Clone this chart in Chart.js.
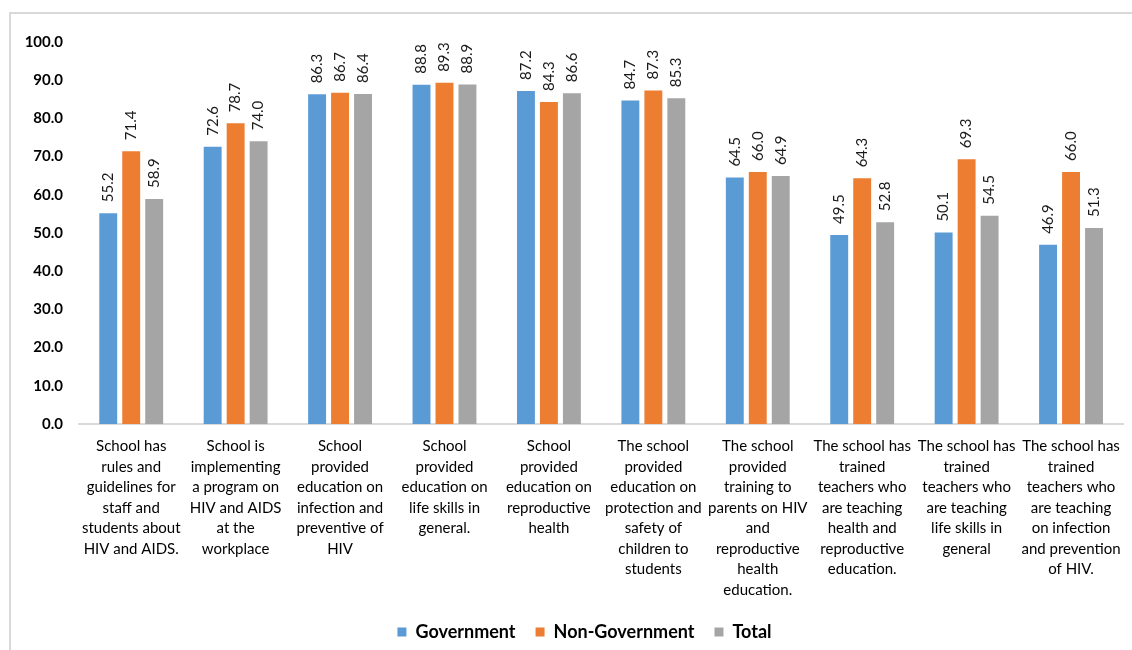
<!DOCTYPE html>
<html>
<head>
<meta charset="utf-8">
<script src="https://cdn.jsdelivr.net/npm/chart.js@4.4.1/dist/chart.umd.min.js"></script>
<style>
  html, body { margin: 0; padding: 0; background: #fff; overflow: hidden; }
  #frame {
    position: absolute; left: 9px; top: 12px;
    width: 1140px; height: 680px;
    border-top: 2px solid #d9d9d9; border-left: 2px solid #d9d9d9;
  }
  #wrap { position: relative; width: 1122px; height: 660px; }
</style>
</head>
<body>
<div id="frame"><div id="wrap"><canvas id="schoolChart"></canvas></div></div>
<script>
  // === Data ===
  const categories = [
    ['School has', 'rules and', 'guidelines for', 'staff and', 'students about', 'HIV and AIDS.'],
    ['School is', 'implementing', 'a program on', 'HIV and AIDS', 'at the', 'workplace'],
    ['School', 'provided', 'education on', 'infection and', 'preventive of', 'HIV'],
    ['School', 'provided', 'education on', 'life skills in', 'general.'],
    ['School', 'provided', 'education on', 'reproductive', 'health'],
    ['The school', 'provided', 'education on', 'protection and', 'safety of', 'children to', 'students'],
    ['The school', 'provided', 'training to', 'parents on HIV', 'and', 'reproductive', 'health', 'education.'],
    ['The school has', 'trained', 'teachers who', 'are teaching', 'health and', 'reproductive', 'education.'],
    ['The school has', 'trained', 'teachers who', 'are teaching', 'life skills in', 'general'],
    ['The school has', 'trained', 'teachers who', 'are teaching', 'on infection', 'and prevention', 'of HIV.']
  ];
  const government    = [55.2, 72.6, 86.3, 88.8, 87.2, 84.7, 64.5, 49.5, 50.1, 46.9];
  const nonGovernment = [71.4, 78.7, 86.7, 89.3, 84.3, 87.3, 66.0, 64.3, 69.3, 66.0];
  const total         = [58.9, 74.0, 86.4, 88.9, 86.6, 85.3, 64.9, 52.8, 54.5, 51.3];
  const yTicks = [0, 10, 20, 30, 40, 50, 60, 70, 80, 90, 100];

  const FONT = 'Lato';

  // value labels, rotated, above each bar
  const barValueLabels = {
    id: 'barValueLabels',
    afterDatasetsDraw(chart) {
      const ctx = chart.ctx;
      ctx.save();
      ctx.font = '15px ' + FONT;
      ctx.fillStyle = '#1a1a1a';
      ctx.textAlign = 'left';
      ctx.textBaseline = 'middle';
      chart.data.datasets.forEach((ds, i) => {
        chart.getDatasetMeta(i).data.forEach((bar, j) => {
          ctx.save();
          ctx.translate(bar.x, bar.y - 11);
          ctx.rotate(-Math.PI / 2);
          ctx.fillText(ds.data[j].toFixed(1), 0, 0);
          ctx.restore();
        });
      });
      ctx.restore();
    }
  };

  // legend sits a little right of the canvas centre in the original
  const legendShift = {
    id: 'legendShift',
    afterLayout(chart) {
      if (!chart.legend) return;
      chart.legend.left += 16;
      chart.legend.right += 16;
    }
  };

  const barOpts = { categoryPercentage: 0.66, barPercentage: 0.78 };

  new Chart(document.getElementById('schoolChart'), {
    type: 'bar',
    data: {
      labels: categories,
      datasets: [
        Object.assign({ label: 'Government', data: government, backgroundColor: '#5B9BD5' }, barOpts),
        Object.assign({ label: 'Non-Government', data: nonGovernment, backgroundColor: '#ED7D31' }, barOpts),
        Object.assign({ label: 'Total', data: total, backgroundColor: '#A5A5A5' }, barOpts)
      ]
    },
    options: {
      responsive: true,
      maintainAspectRatio: false,
      animation: false,
      layout: { padding: { top: 28, right: 7, bottom: 23, left: 0 } },
      plugins: {
        legend: {
          position: 'bottom',
          labels: {
            boxWidth: 9,
            boxHeight: 9,
            padding: 20,
            color: '#000',
            font: { size: 18, weight: 'bold', family: FONT }
          }
        },
        tooltip: { enabled: false }
      },
      scales: {
        x: {
          grid: { display: false, drawTicks: false },
          border: { color: '#d9d9d9', width: 2 },
          ticks: {
            maxRotation: 0,
            autoSkip: false,
            padding: 12,
            color: '#000',
            font: { size: 15, family: FONT, lineHeight: 1.37 }
          },
          afterFit: (scale) => { scale.height = 179; }
        },
        y: {
          min: 0,
          max: 100,
          grid: { display: false, drawTicks: false },
          border: { display: false },
          afterBuildTicks: (scale) => { scale.ticks = yTicks.map(v => ({ value: v })); },
          ticks: {
            padding: 16,
            color: '#000',
            font: { size: 15, weight: 'bold', family: FONT },
            callback: (v) => Number(v).toFixed(1)
          },
          afterFit: (scale) => { scale.width = 68; }
        }
      }
    },
    plugins: [barValueLabels, legendShift]
  });
</script>
</body>
</html>
